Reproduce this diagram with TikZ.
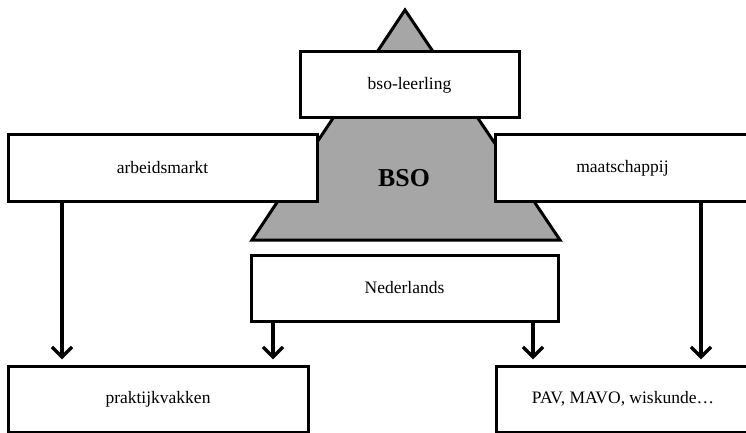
\documentclass[tikz,border=0pt]{standalone}
\usepackage{fontspec}
\setmainfont{Liberation Serif}
\usetikzlibrary{arrows.meta, positioning}

\begin{document}
\begin{tikzpicture}[x=0.6pt, y=-0.6pt, >={Straight Barb[length=6pt, width=12pt]},
    box/.style={draw, fill=white, line width=1.8pt, minimum height=66*0.6pt,
      inner sep=0pt, outer sep=0pt, font=\fontsize{10.5}{12}\selectfont},
    pijl/.style={->, line width=2pt, shorten >=4pt}]
    \useasboundingbox (0, 0) rectangle (746, 433);

    % driehoek
    \draw[fill=black!35, line width=1.8pt] (252, 240) -- (405, 10) -- (560, 240) -- cycle;
    \node[font=\fontsize{15.5}{18}\selectfont\bfseries] (bso) at (404, 178) {BSO};

    \node[box, minimum width=219*0.6pt] (leerling) at (409.5, 85) {bso-leerling};
    \node[box, minimum width=309*0.6pt] (arbeid) at (162.5, 168) {arbeidsmarkt};
    \node[box, minimum width=255*0.6pt] (maat) at (622.5, 168) {maatschappij};
    \node[box, minimum width=307*0.6pt] (ned) at (404.5, 288) {Nederlands};
    \node[box, minimum width=300*0.6pt] (prak) at (158, 399) {praktijkvakken};
    \node[box, minimum width=254*0.6pt] (pav) at (623, 399) {PAV, MAVO, wiskunde\dots};

    \draw[pijl] ([xshift=54*0.6pt]arbeid.south west) -- ([xshift=54*0.6pt]arbeid.south west |- prak.north);
    \draw[pijl] ([xshift=22*0.6pt]ned.south west) -- ([xshift=22*0.6pt]ned.south west |- prak.north);
    \draw[pijl] ([xshift=-25*0.6pt]ned.south east) -- ([xshift=-25*0.6pt]ned.south east |- pav.north);
    \draw[pijl] ([xshift=206*0.6pt]maat.south west) -- ([xshift=206*0.6pt]maat.south west |- pav.north);

\end{tikzpicture}
\end{document}
